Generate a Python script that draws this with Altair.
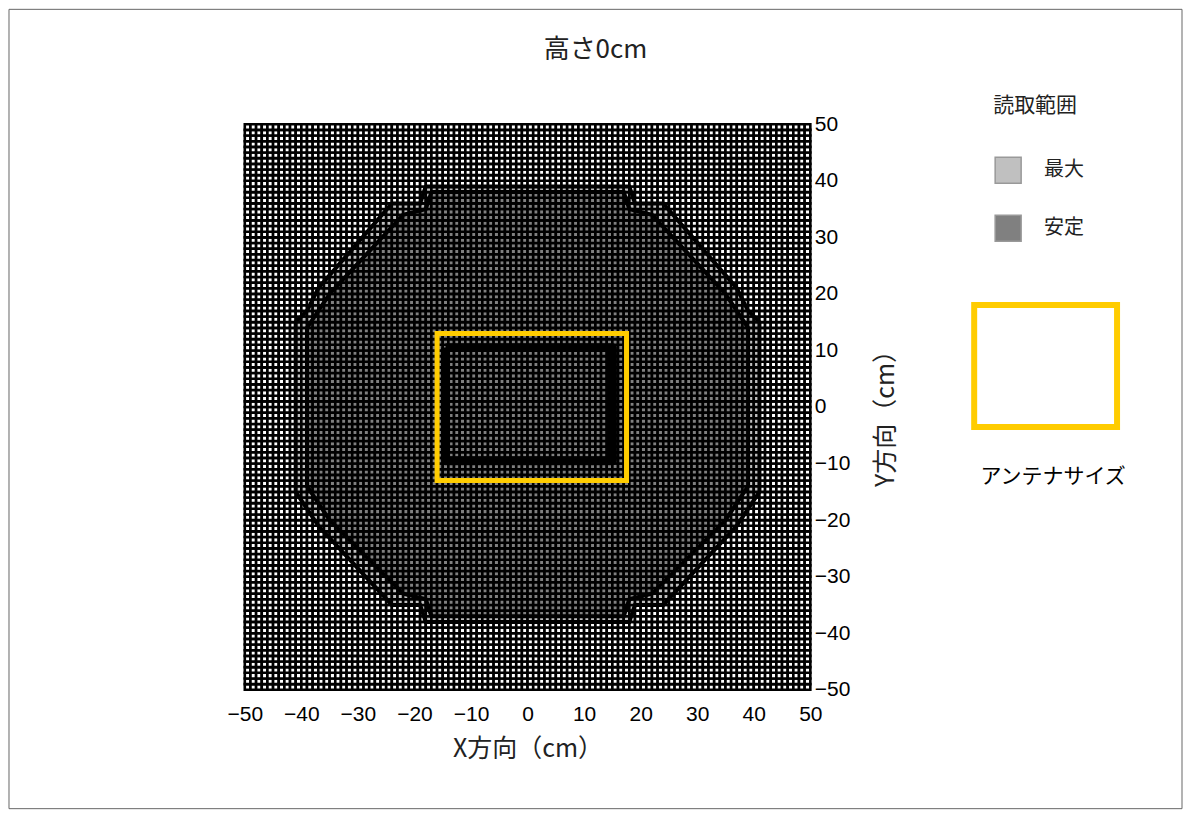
import altair as alt
import pandas as pd

# ---- data ----
grid_min, grid_max = -50, 50
tick_values = [-50, -40, -30, -20, -10, 0, 10, 20, 30, 40, 50]

# outer boundary (最大 reading range)
outer_x = [-18, 18, 19, 24, 37, 39, 41, 41, 39, 37, 24, 19, 18, -18, -19, -24, -37, -39, -41, -41, -39, -37, -24, -19]
outer_y = [39, 39, 36, 36, 21, 17, 15, -15, -18, -21, -35, -35, -38, -38, -35, -35, -21, -18, -15, 15, 17, 21, 36, 36]
# inner boundary (安定 reading range)
inner_x = [-17, 17, 18, 22, 35, 37, 39, 39, 37, 35, 22, 18, 17, -17, -18, -22, -35, -37, -39, -39, -37, -35, -22, -18]
inner_y = [38, 38, 35, 34, 20, 17, 14, -14, -17, -20, -33, -34, -37, -37, -34, -33, -20, -17, -14, 14, 17, 20, 34, 35]
# dark band inside antenna
core_x = [-14.5, 15, 15, -14.5, -14.5]
core_y = [10.5, 10.5, -9.5, -9.5, 10.5]
# antenna size
antenna_x = [-16, 17.5]
antenna_y = [-13, 13]

categories = ["外", "最大", "安定"]
cat_colors = ["#FFFFFF", "#C0C0C0", "#808080"]


def inside(px, py, xs, ys):
    n = len(xs)
    res = False
    j = n - 1
    for i in range(n):
        xi, yi, xj, yj = xs[i], ys[i], xs[j], ys[j]
        if (yi > py) != (yj > py):
            xc = xi + (py - yi) * (xj - xi) / (yj - yi)
            if px < xc:
                res = not res
        j = i
    return res


rows = []
for ix in range(grid_min, grid_max):
    for iy in range(grid_min, grid_max):
        cx, cy = ix + 0.5, iy + 0.5
        if inside(cx, cy, inner_x, inner_y):
            c = "安定"
        elif inside(cx, cy, outer_x, outer_y):
            c = "最大"
        else:
            c = "外"
        rows.append({"x": ix, "y": iy, "c": c})
cells = pd.DataFrame(rows)

paths = []
for name, xs, ys in [("outer", outer_x + outer_x[:1], outer_y + outer_y[:1]),
                     ("inner", inner_x + inner_x[:1], inner_y + inner_y[:1])]:
    for k, (a, b) in enumerate(zip(xs, ys)):
        paths.append({"p": name, "o": k, "x": a, "y": b})
paths = pd.DataFrame(paths)
core = pd.DataFrame({"x": core_x, "y": core_y, "o": list(range(len(core_x)))})
antenna = pd.DataFrame({"x": [antenna_x[0]], "x2": [antenna_x[1]], "y": [antenna_y[0]], "y2": [antenna_y[1]]})

W = 566
H = 566
OX, OY = 245, 124  # plot origin on the page

xscale = alt.Scale(domain=[grid_min, grid_max], nice=False, zero=False)
yscale = alt.Scale(domain=[grid_min, grid_max], nice=False, zero=False)

xaxis = alt.Axis(values=tick_values, title="X方向（cm）", grid=False, ticks=False, domain=False,
                 labelFlush=False, labelOverlap=False,
                 labelFont="Liberation Sans", labelFontSize=21, labelColor="black", labelPadding=14,
                 titleFont="Noto Sans CJK JP", titleFontSize=25, titleFontWeight="normal",
                 titleColor="#222222", titlePadding=12)
yaxis = alt.Axis(values=tick_values, orient="right", title="Y方向（cm）", grid=False, ticks=False,
                 domain=False, labelFlush=False, labelOverlap=False,
                 labelFont="Liberation Sans", labelFontSize=21, labelColor="black",
                 labelPadding=4, labelAlign="left", titleFont="Noto Sans CJK JP", titleFontSize=25,
                 titleFontWeight="normal", titleColor="#222222", titleAngle=270,
                 titleX=75, titleY=288, titleAlign="center", titleBaseline="middle")

base_cells = alt.Chart(cells).transform_calculate(
    x2="datum.x + 1", y2="datum.y + 1"
).mark_rect(stroke="black", strokeWidth=2.6).encode(
    x=alt.X("x:Q", scale=xscale, axis=xaxis),
    x2="x2:Q",
    y=alt.Y("y:Q", scale=yscale, axis=yaxis),
    y2="y2:Q",
    fill=alt.Fill("c:N", scale=alt.Scale(domain=categories, range=cat_colors),
                  legend=alt.Legend(values=["最大", "安定"], title=None, orient="none",
                                    legendX=750, legendY=32, symbolType="square",
                                    symbolSize=676, symbolStrokeColor="#999999",
                                    symbolStrokeWidth=1.5, labelFont="Noto Sans CJK JP",
                                    labelFontSize=20, labelColor="#222222", labelOffset=22,
                                    rowPadding=26)),
)

lines = alt.Chart(paths).mark_line(color="black", strokeWidth=4).encode(
    x=alt.X("x:Q", scale=xscale), y=alt.Y("y:Q", scale=yscale),
    detail="p:N", order="o:Q")

core_line = alt.Chart(core).mark_line(color="black", strokeWidth=9, strokeJoin="round").encode(
    x=alt.X("x:Q", scale=xscale), y=alt.Y("y:Q", scale=yscale), order="o:Q")

ant = alt.Chart(antenna).mark_rect(fillOpacity=0, stroke="#FFCC00", strokeWidth=5).encode(
    x=alt.X("x:Q", scale=xscale), x2="x2:Q", y=alt.Y("y:Q", scale=yscale), y2="y2:Q")

# decorations (pixel positions relative to plot origin)
one = pd.DataFrame({"t": ["高さ0cm"]})
title = alt.Chart(one).mark_text(font="Noto Sans CJK JP", fontSize=26, color="#222222").encode(
    x=alt.value(596 - OX), y=alt.value(50 - OY), text="t:N")
leg_title = alt.Chart(pd.DataFrame({"t": ["読取範囲"]})).mark_text(
    font="Noto Sans CJK JP", fontSize=21, color="#222222", align="left").encode(
    x=alt.value(994 - OX), y=alt.value(106 - OY), text="t:N")
leg_rect = alt.Chart(one).mark_rect(fillOpacity=0, stroke="#FFCC00", strokeWidth=6).encode(
    x=alt.value(975 - OX), x2=alt.value(1118 - OX), y=alt.value(305 - OY), y2=alt.value(427 - OY))
leg_text = alt.Chart(pd.DataFrame({"t": ["アンテナサイズ"]})).mark_text(
    font="Noto Sans CJK JP", fontSize=21, color="black").encode(
    x=alt.value(1054 - OX), y=alt.value(477 - OY), text="t:N")
frame = alt.Chart(one).mark_rect(fillOpacity=0, stroke="#666666", strokeWidth=1).encode(
    x=alt.value(9 - OX), x2=alt.value(1183 - OX), y=alt.value(9 - OY), y2=alt.value(809 - OY))

chart = alt.layer(base_cells, lines, core_line, ant, title, leg_title, leg_rect, leg_text, frame).properties(
    width=W, height=H,
    autosize=alt.AutoSizeParams(type="none"),
    padding={"left": OX - 8, "top": OY - 8, "right": 1185 - (OX + W), "bottom": 810 - (OY + H)},
).configure_view(stroke=None).configure(background="white")

chart.save("out.html", embed_options={"renderer": "svg", "actions": False})
